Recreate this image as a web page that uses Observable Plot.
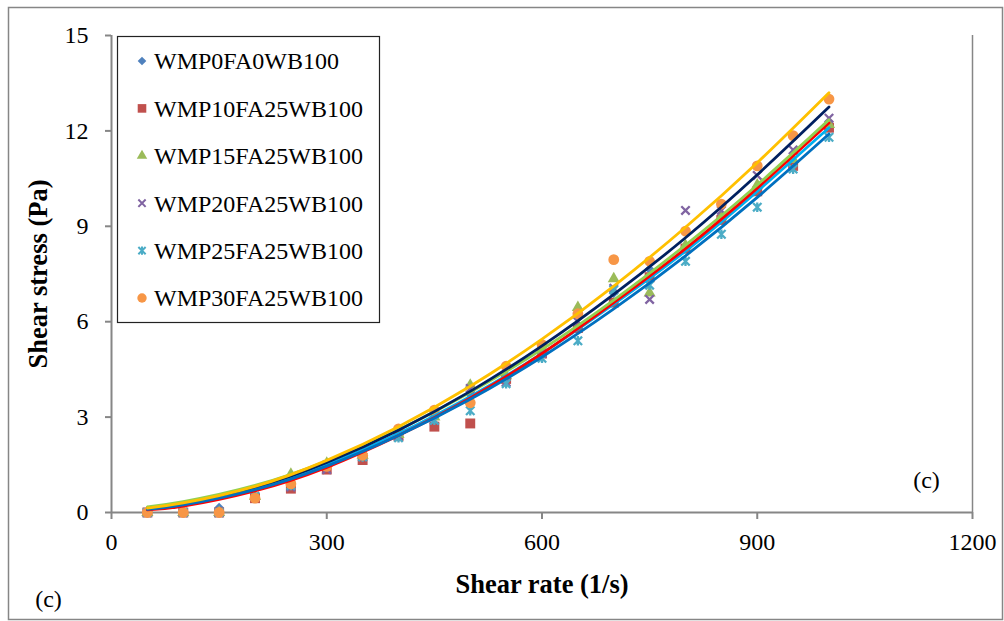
<!DOCTYPE html>
<html><head><meta charset="utf-8">
<script src="https://cdn.jsdelivr.net/npm/d3@7"></script>
<script src="https://cdn.jsdelivr.net/npm/@observablehq/plot@0.6"></script>
<style>body{margin:0;background:#fff} #chart{width:1004px;height:621px}</style>
</head><body><div id="chart"></div>
<script>
// ---- data ----
const shearRate = [50,100,150,200,250,300,350,400,450,500,550,600,650,700,750,800,850,900,950,1000];
const wmp0  = [0,0,0.15,0.5,0.8,1.4,1.8,2.45,3.0,3.7,4.3,5.0,5.8,6.9,7.65,8.3,9.3,10.2,11.0,12.2];
const wmp10 = [0,0,0,0.45,0.75,1.35,1.65,2.4,2.7,2.8,4.2,5.0,5.8,6.6,7.4,8.3,9.2,10.1,10.9,12.1];
const wmp15 = [0,0,0,0.5,1.2,1.55,1.8,2.45,3.0,4.0,4.3,5.15,6.45,7.35,6.9,8.4,9.3,10.3,11.1,12.2];
const wmp20 = [0,0,0,0.5,0.8,1.35,1.75,2.4,2.9,3.9,4.1,5.0,6.0,7.05,6.7,9.5,9.5,10.6,11.4,12.4];
const wmp25 = [0,0,0,0.5,0.85,1.5,1.75,2.35,2.9,3.2,4.05,4.85,5.4,7.0,7.15,7.9,8.75,9.6,10.8,11.8];
const wmp30 = [0,0,0,0.45,0.9,1.45,1.8,2.63,3.22,3.45,4.6,5.28,6.25,7.95,7.9,8.85,9.7,10.9,11.85,13.0];

const seriesNames = ["WMP0FA0WB100","WMP10FA25WB100","WMP15FA25WB100","WMP20FA25WB100","WMP25FA25WB100","WMP30FA25WB100"];
const markerColors = ["#4F81BD","#C0504D","#9BBB59","#8064A2","#4BACC6","#F79646"];

// trend lines
const trendX = [50,100,200,300,400,500,600,700,800,900,1000];
const trend0  = [0.12,0.27,0.75,1.5,2.48,3.65,5.0,6.55,8.22,10.1,12.1];
const trend10 = [0.08,0.2,0.68,1.42,2.42,3.6,5.0,6.6,8.3,10.2,12.25];
const trend15 = [0.18,0.34,0.85,1.62,2.6,3.78,5.13,6.68,8.41,10.3,12.35];
const trend20 = [0.12,0.27,0.78,1.57,2.59,3.81,5.24,6.86,8.64,10.62,12.75];
const trend25 = [0.1,0.24,0.72,1.46,2.42,3.56,4.89,6.4,8.07,9.91,11.9];
const trend30 = [0.14,0.3,0.82,1.64,2.7,3.97,5.45,7.12,8.97,11.0,13.2];
const trendColors = ["#00B0F0","#FF0000","#92D050","#002060","#0070C0","#FFC000"];

const xTicks = [0,300,600,900,1200];
const yTicks = [0,3,6,9,12,15];

// ---- symbols ----
const symTimes = {draw(ctx, size){const r=Math.sqrt(size/Math.PI);ctx.moveTo(-r,-r);ctx.lineTo(r,r);ctx.moveTo(-r,r);ctx.lineTo(r,-r);}};
const symStar = {draw(ctx, size){const r=Math.sqrt(size/Math.PI);ctx.moveTo(-r,-r);ctx.lineTo(r,r);ctx.moveTo(-r,r);ctx.lineTo(r,-r);ctx.moveTo(0,-r*1.15);ctx.lineTo(0,r*1.15);}};
const markers = [
  {symbol:"diamond2", r:4.5, filled:true},
  {symbol:"square", r:5.6, filled:true},
  {symbol:"triangle", r:4.5, filled:true},
  {symbol:symTimes, r:4.2, filled:false},
  {symbol:symStar, r:4.2, filled:false},
  {symbol:"circle", r:5.4, filled:true}
];

const values = [wmp0,wmp10,wmp15,wmp20,wmp25,wmp30];
const trends = [trend0,trend10,trend15,trend20,trend25,trend30];

const pointMarks = values.map((vals,i)=>{
  const data = shearRate.map((x,j)=>({x, y: vals[j]}));
  const m = markers[i];
  return Plot.dot(data, m.filled
    ? {x:"x", y:"y", symbol:m.symbol, r:m.r, fill:markerColors[i], stroke:"none"}
    : {x:"x", y:"y", symbol:m.symbol, r:m.r, fill:"none", stroke:markerColors[i], strokeWidth:2.3});
});
const lineMarks = trends.map((vals,i)=>{
  const data = trendX.map((x,j)=>({x, y: vals[j]}));
  return Plot.line(data, {x:"x", y:"y", stroke:trendColors[i], strokeWidth:2.8, curve:"natural"});
});

const grey = "#868686";
const plot = Plot.plot({
  width: 1004, height: 621,
  marginLeft: 111, marginRight: 32, marginTop: 35, marginBottom: 109,
  style: {fontFamily: "'Liberation Serif', 'Times New Roman', serif", fontSize: "24px", background: "#fff", color: "black"},
  x: {domain: [0,1200]},
  y: {domain: [0,15]},
  marks: [
    Plot.ruleX([1200], {stroke: grey, strokeWidth: 1.5}),
    Plot.ruleY([0], {stroke: grey, strokeWidth: 2}),
    Plot.ruleX([0], {stroke: grey, strokeWidth: 2}),
    Plot.axisX({ticks: xTicks, tickFormat: d => String(d), tickSize: 7, tickPadding: 13, stroke: grey, strokeWidth: 2, fill: "black", label: null, fontSize: 24}),
    Plot.axisY({ticks: yTicks, tickFormat: d => String(d), tickSize: 6, tickPadding: 17, stroke: grey, strokeWidth: 2, fill: "black", label: null, fontSize: 24}),
    ...pointMarks,
    ...lineMarks,
    Plot.text(["Shear stress (Pa)"], {frameAnchor: "left", textAnchor: "middle", dx: -73, rotate: -90, fontWeight: "bold", fontSize: 26.5, fill: "black"}),
    Plot.text(["Shear rate (1/s)"], {frameAnchor: "bottom", textAnchor: "middle", dy: 80, fontWeight: "bold", fontSize: 26.5, fill: "black"}),
    Plot.text(["(c)"], {frameAnchor: "bottom-right", textAnchor: "middle", dx: -46, dy: -25, fontSize: 24, fill: "black"}),
    Plot.text(["(c)"], {frameAnchor: "bottom-left", textAnchor: "middle", dx: -63, dy: 94, fontSize: 24, fill: "black"})
  ]
});
document.getElementById("chart").appendChild(plot);

// outer chart border
const svg = d3.select(plot);
svg.insert("rect", ":first-child")
  .attr("x", 8.5).attr("y", 7.5).attr("width", 994).attr("height", 612)
  .attr("fill", "none").attr("stroke", grey).attr("stroke-width", 1.5);

// legend
const lg = svg.append("g");
lg.append("rect").attr("x", 117.5).attr("y", 36.5).attr("width", 262).attr("height", 286)
  .attr("fill", "white").attr("stroke", "#222").attr("stroke-width", 1.2);
const typeOf = {diamond2:d3.symbolDiamond2, square:d3.symbolSquare, triangle:d3.symbolTriangle, circle:d3.symbolCircle};
seriesNames.forEach((name,i)=>{
  const cy = 61 + i*47.4;
  const m = markers[i];
  const p = d3.symbol().type(typeof m.symbol === "string" ? typeOf[m.symbol] : m.symbol).size(m.r*m.r*Math.PI*0.75)();
  const path = lg.append("path").attr("d", p).attr("transform", `translate(142,${cy})`);
  if (m.filled) path.attr("fill", markerColors[i]); else path.attr("fill","none").attr("stroke", markerColors[i]).attr("stroke-width", 2);
  lg.append("text").attr("x", 154).attr("y", cy).attr("dy", "0.35em").attr("text-anchor", "start")
    .attr("font-size", 24).attr("fill", "black").text(name);
});
</script>
</body></html>
